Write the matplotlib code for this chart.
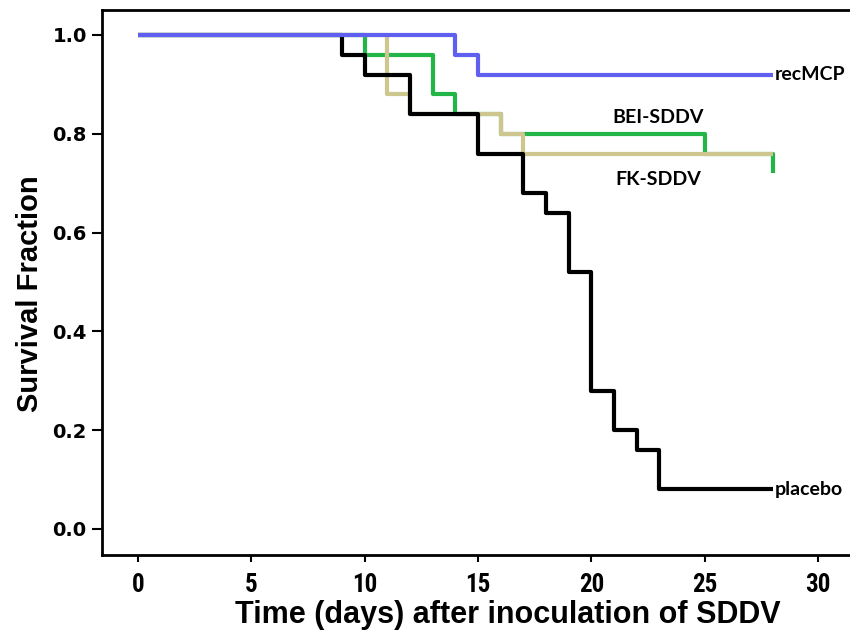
import matplotlib
matplotlib.use("Agg")
import matplotlib.pyplot as plt
from matplotlib import font_manager as fm

# ---- data (Kaplan-Meier step points) ----
recmcp_t = [0, 14, 15, 28]
recmcp_s = [1.00, 0.96, 0.92, 0.92]

bei_t = [0, 10, 13, 14, 16, 25, 28]
bei_s = [1.00, 0.96, 0.88, 0.84, 0.80, 0.76, 0.72]

fk_t = [0, 11, 12, 16, 17, 28]
fk_s = [1.00, 0.88, 0.84, 0.80, 0.76, 0.76]

placebo_t = [0, 9, 10, 12, 15, 17, 18, 19, 20, 21, 22, 23, 28]
placebo_s = [1.00, 0.96, 0.92, 0.84, 0.76, 0.68, 0.64, 0.52, 0.28, 0.20, 0.16, 0.08, 0.08]

xticks = [0, 5, 10, 15, 20, 25, 30]
yticks = [0.0, 0.2, 0.4, 0.6, 0.8, 1.0]


def find_narrow_bold():
    prefs = ['liberationsansnarrow-bold', 'robotocondensed-bold', 'dejavusanscondensed-bold',
             'opensans_condensed-bold', 'opensanscondensed-bold', 'arialnarrow']
    files = [f.fname for f in fm.fontManager.ttflist]
    low = {fn: fn.lower().replace(' ', '').split('/')[-1] for fn in files}
    for p in prefs:
        for fn, l in low.items():
            if l.startswith(p) and 'italic' not in l and 'oblique' not in l:
                return fm.FontProperties(fname=fn)
    for fn, l in low.items():
        if ('narrow' in l or 'condensed' in l) and 'bold' in l and 'italic' not in l and 'oblique' not in l and 'semi' not in l and 'extra' not in l:
            return fm.FontProperties(fname=fn)
    return fm.FontProperties(family='Liberation Sans', weight='bold')


W, H = 850, 639
fig = plt.figure(figsize=(W / 100, H / 100), dpi=100)
left_px, right_px, top_px, bot_px = 102, 880, 10, 555
ax = fig.add_axes([left_px / W, 1 - bot_px / H, (right_px - left_px) / W, (bot_px - top_px) / H])

x0px, x30px = 138, 818
ppd = (x30px - x0px) / 30.0
ax.set_xlim((left_px - x0px) / ppd, (right_px - x0px) / ppd)
y1px, y0px = 35, 529
ppu = (y0px - y1px)
ax.set_ylim((y0px - bot_px) / ppu, (y0px - top_px) / ppu)

lw = 3.0
ax.step(bei_t, bei_s, where='post', color='#22b548', lw=lw, zorder=2, solid_capstyle='butt')
ax.step(fk_t, fk_s, where='post', color='#cdc78f', lw=lw, zorder=3, solid_capstyle='butt')
ax.step(placebo_t, placebo_s, where='post', color='#000000', lw=lw, zorder=4, solid_capstyle='butt')
ax.step(recmcp_t, recmcp_s, where='post', color='#5f5ff0', lw=lw, zorder=5, solid_capstyle='butt')

for s in ax.spines.values():
    s.set_linewidth(2.0)
ax.spines['right'].set_visible(False)

narrow = find_narrow_bold()
tick_fp = narrow.copy()
tick_fp.set_size(18)

ax.set_xticks(xticks)
ax.set_xticklabels([str(v) for v in xticks], fontproperties=tick_fp)
ax.set_yticks(yticks)
ax.set_yticklabels([f"{v:.1f}" for v in yticks], fontfamily='DejaVu Sans', fontweight='bold', fontsize=14)
ax.tick_params(axis='x', direction='out', length=5, width=1.5, pad=8)
ax.tick_params(axis='y', direction='out', length=7, width=1.5, pad=4)

ax.set_xlabel('Time (days) after inoculation of SDDV', fontfamily='Liberation Sans', fontweight='bold',
              fontsize=22, labelpad=2)
ax.xaxis.label.set_x((507.5 - left_px) / (right_px - left_px))
ax.set_ylabel('Survival Fraction', fontfamily='Liberation Sans', fontweight='bold', fontsize=21, labelpad=6)
ax.yaxis.label.set_y((bot_px - 293.5) / (bot_px - top_px))

lab = dict(fontfamily='Lato', fontweight='bold', fontsize=14, va='center')
ax.text(28.1, recmcp_s[-1], 'recMCP', ha='left', **lab)
ax.text(28.1, placebo_s[-1], 'placebo', ha='left', **lab)
ax.text(22.95, 0.833, 'BEI-SDDV', ha='center', **lab)
ax.text(22.95, 0.707, 'FK-SDDV', ha='center', **lab)

fig.savefig('out.png', dpi=100)
